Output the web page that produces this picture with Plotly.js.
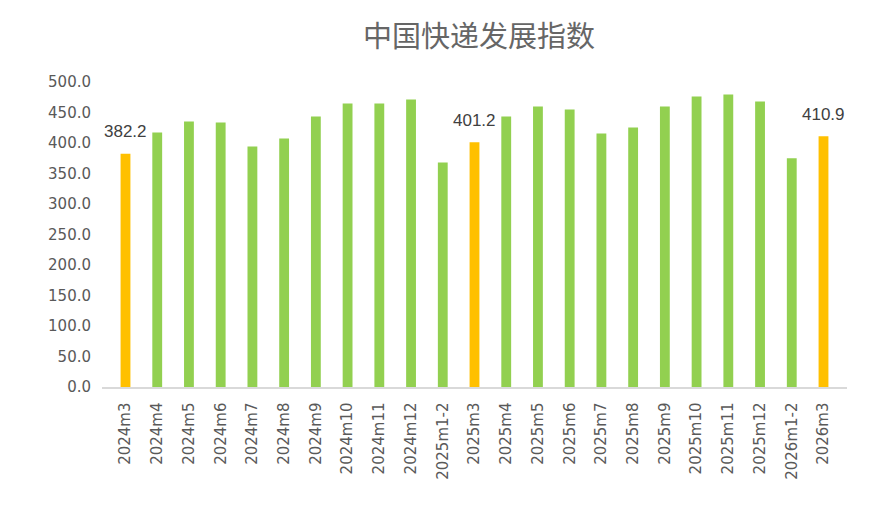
<!DOCTYPE html>
<html>
<head>
<meta charset="utf-8">
<script src="https://cdn.plot.ly/plotly-3.0.1.min.js"></script>
<style>html,body{margin:0;padding:0;background:#fff;}#chart{width:884px;height:505px;}</style>
</head>
<body>
<div id="chart"></div>
<script>
const categories = ["2024m3","2024m4","2024m5","2024m6","2024m7","2024m8","2024m9","2024m10","2024m11","2024m12","2025m1-2",
  "2025m3","2025m4","2025m5","2025m6","2025m7","2025m8","2025m9","2025m10","2025m11","2025m12","2026m1-2","2026m3"];
const values = [382.2,417.3,435.4,433.7,394.4,407.5,443.5,464.8,464.8,471.4,368.2,
  401.2,443.5,459.9,455.0,415.7,425.5,459.9,476.3,479.5,468.1,374.8,410.9];
const highlighted = ["2024m3","2025m3","2026m3"];
const yTicks = [0,50,100,150,200,250,300,350,400,450,500];

const GREEN = "#92D050", YELLOW = "#FFC000";
const colors = categories.map(c => highlighted.includes(c) ? YELLOW : GREEN);

const annotations = categories
  .map((c, i) => ({c, v: values[i]}))
  .filter(d => highlighted.includes(d.c))
  .map(d => ({
    x: d.c, y: d.v, xref: "x", yref: "y",
    text: d.v.toFixed(1), showarrow: false,
    yanchor: "middle", yshift: 22,
    font: {family: "Liberation Sans", size: 17, color: "#404040"}
  }));

const trace = {
  type: "bar", x: categories, y: values,
  marker: {color: colors}, hoverinfo: "x+y"
};

const layout = {
  width: 884, height: 505,
  margin: {l: 102, r: 37, t: 82, b: 118},
  paper_bgcolor: "#fff", plot_bgcolor: "#fff",
  bargap: 0.69,
  showlegend: false,
  title: {
    text: "中国快递发展指数",
    font: {family: "Noto Sans CJK SC", size: 29, color: "#666666"},
    x: 0.542, xanchor: "center", y: 0.928, yanchor: "middle"
  },
  xaxis: {
    type: "category", tickangle: -90, automargin: false,
    tickfont: {family: "DejaVu Sans", size: 15, color: "#595959"},
    showline: true, linecolor: "#D9D9D9", linewidth: 1.5,
    showgrid: false, ticks: "", ticklabelstandoff: 8
  },
  yaxis: {
    range: [0, 500], tickvals: yTicks, automargin: false,
    ticktext: yTicks.map(v => v.toFixed(1)),
    tickfont: {family: "DejaVu Sans", size: 15, color: "#595959"},
    showgrid: false, zeroline: false, showline: false,
    ticks: "", ticklabelstandoff: 10
  },
  annotations: annotations
};

Plotly.newPlot("chart", [trace], layout, {displayModeBar: false, staticPlot: true});
</script>
</body>
</html>
